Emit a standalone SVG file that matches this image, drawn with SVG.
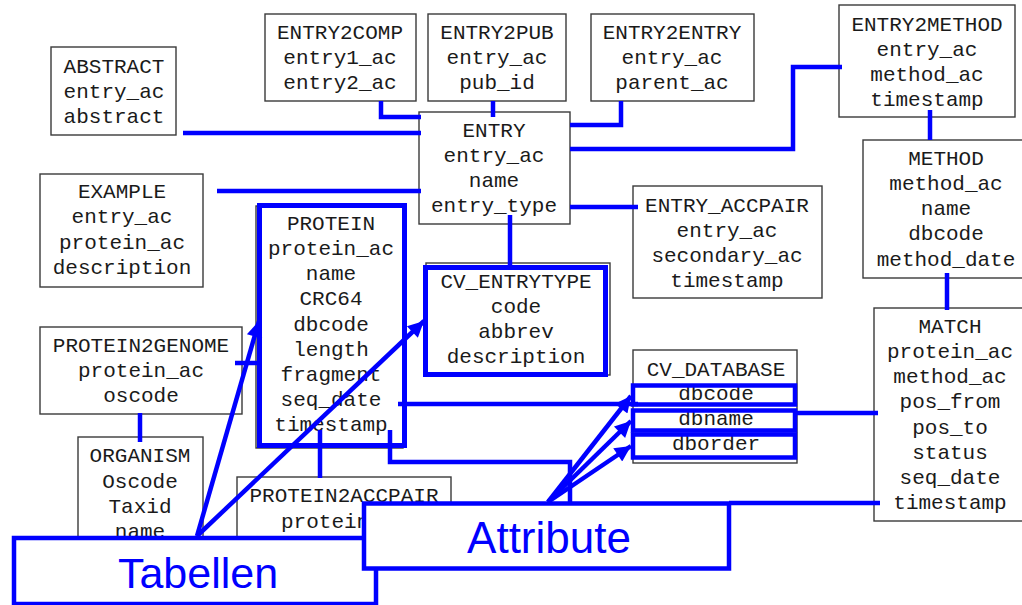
<svg xmlns="http://www.w3.org/2000/svg" width="1022" height="605" viewBox="0 0 1022 605">
  <style>
    .box { fill: #ffffff; stroke: #3a3a3a; stroke-width: 1.4; }
    .hl { fill: none; stroke: #0000ff; stroke-width: 5; }
    .row { fill: none; stroke: #0000ff; stroke-width: 4.5; }
    .lbl { fill: #ffffff; stroke: #0000ff; stroke-width: 4.5; }
    .t { font-family: "Liberation Mono", "DejaVu Sans Mono", monospace; font-size: 21px; fill: #1a1a1a; text-anchor: middle; }
    .big { font-family: "Liberation Sans", Arial, sans-serif; fill: #0000ff; text-anchor: middle; }
    .c { fill: none; stroke: #0000ff; stroke-width: 4.5; stroke-linejoin: miter; }
  </style>
  <defs>
    <marker id="arrow" viewBox="0 0 10 10" refX="10" refY="5" markerWidth="20" markerHeight="16" markerUnits="userSpaceOnUse" orient="auto">
      <path d="M0,0 L10,5 L0,10 z" fill="#0000ff"/>
    </marker>
  </defs>

  <rect width="1022" height="605" fill="#ffffff"/>

  <!-- tables -->
  <g id="abstract">
    <rect class="box" x="51" y="47" width="125" height="88"/>
    <text class="t" x="114" y="73">ABSTRACT</text>
    <text class="t" x="114" y="98">entry_ac</text>
    <text class="t" x="114" y="123">abstract</text>
  </g>
  <g id="entry2comp">
    <rect class="box" x="265" y="14" width="151" height="87"/>
    <text class="t" x="340" y="39">ENTRY2COMP</text>
    <text class="t" x="340" y="64">entry1_ac</text>
    <text class="t" x="340" y="89">entry2_ac</text>
  </g>
  <g id="entry2pub">
    <rect class="box" x="428" y="14" width="138" height="87"/>
    <text class="t" x="497" y="39">ENTRY2PUB</text>
    <text class="t" x="497" y="64">entry_ac</text>
    <text class="t" x="497" y="89">pub_id</text>
  </g>
  <g id="entry2entry">
    <rect class="box" x="591" y="14" width="163" height="87"/>
    <text class="t" x="672" y="39">ENTRY2ENTRY</text>
    <text class="t" x="672" y="64">entry_ac</text>
    <text class="t" x="672" y="89">parent_ac</text>
  </g>
  <g id="entry2method">
    <rect class="box" x="839" y="5" width="176" height="112"/>
    <text class="t" x="927" y="31">ENTRY2METHOD</text>
    <text class="t" x="927" y="56">entry_ac</text>
    <text class="t" x="927" y="81">method_ac</text>
    <text class="t" x="927" y="106">timestamp</text>
  </g>
  <g id="entry">
    <rect class="box" x="419" y="112" width="151" height="112"/>
    <text class="t" x="494" y="137">ENTRY</text>
    <text class="t" x="494" y="162">entry_ac</text>
    <text class="t" x="494" y="187">name</text>
    <text class="t" x="494" y="212">entry_type</text>
  </g>
  <g id="example">
    <rect class="box" x="40" y="174" width="163" height="113"/>
    <text class="t" x="122" y="198">EXAMPLE</text>
    <text class="t" x="122" y="223">entry_ac</text>
    <text class="t" x="122" y="249">protein_ac</text>
    <text class="t" x="122" y="274">description</text>
  </g>
  <g id="method">
    <rect class="box" x="863" y="140" width="170" height="138"/>
    <text class="t" x="946" y="165">METHOD</text>
    <text class="t" x="946" y="190">method_ac</text>
    <text class="t" x="946" y="215">name</text>
    <text class="t" x="946" y="240">dbcode</text>
    <text class="t" x="946" y="266">method_date</text>
  </g>
  <g id="entry_accpair">
    <rect class="box" x="633" y="186" width="189" height="112"/>
    <text class="t" x="727" y="212">ENTRY_ACCPAIR</text>
    <text class="t" x="727" y="237">entry_ac</text>
    <text class="t" x="727" y="262">secondary_ac</text>
    <text class="t" x="727" y="287">timestamp</text>
  </g>
  <g id="protein">
    <rect class="box" x="256" y="206" width="147" height="242"/>
    <rect class="hl" x="259.5" y="205.5" width="145" height="240"/>
    <text class="t" x="331" y="230">PROTEIN</text>
    <text class="t" x="331" y="255">protein_ac</text>
    <text class="t" x="331" y="280">name</text>
    <text class="t" x="331" y="305">CRC64</text>
    <text class="t" x="331" y="331">dbcode</text>
    <text class="t" x="331" y="356">length</text>
    <text class="t" x="331" y="381">fragment</text>
    <text class="t" x="331" y="406">seq_date</text>
    <text class="t" x="331" y="431">timestamp</text>
  </g>
  <g id="cv_entrytype">
    <rect class="box" x="426" y="263" width="184" height="112"/>
    <rect class="hl" x="425.5" y="267.5" width="180" height="107"/>
    <text class="t" x="516" y="288">CV_ENTRYTYPE</text>
    <text class="t" x="516" y="313">code</text>
    <text class="t" x="516" y="338">abbrev</text>
    <text class="t" x="516" y="363">description</text>
  </g>
  <g id="protein2genome">
    <rect class="box" x="40" y="327" width="202" height="87"/>
    <text class="t" x="141" y="352">PROTEIN2GENOME</text>
    <text class="t" x="141" y="377">protein_ac</text>
    <text class="t" x="141" y="402">oscode</text>
  </g>
  <g id="organism">
    <rect class="box" x="78" y="437" width="125" height="125"/>
    <text class="t" x="140" y="462">ORGANISM</text>
    <text class="t" x="140" y="488">Oscode</text>
    <text class="t" x="140" y="513">Taxid</text>
    <text class="t" x="140" y="538">name</text>
  </g>
  <g id="protein2accpair">
    <rect class="box" x="237" y="477" width="214" height="80"/>
    <text class="t" x="344" y="502">PROTEIN2ACCPAIR</text>
    <text class="t" x="344" y="528">protein_ac</text>
  </g>
  <g id="cv_database">
    <rect class="box" x="633" y="350" width="164" height="113"/>
    <text class="t" x="716" y="376">CV_DATABASE</text>
    <text class="t" x="716" y="400">dbcode</text>
    <text class="t" x="716" y="425">dbname</text>
    <text class="t" x="716" y="450">dborder</text>
    <rect class="row" x="633" y="385.5" width="162" height="19"/>
    <rect class="row" x="633" y="410.5" width="162" height="20"/>
    <rect class="row" x="633" y="434.5" width="162" height="23"/>
  </g>
  <g id="match">
    <rect class="box" x="874" y="308" width="160" height="213"/>
    <text class="t" x="950" y="333">MATCH</text>
    <text class="t" x="950" y="358">protein_ac</text>
    <text class="t" x="950" y="383">method_ac</text>
    <text class="t" x="950" y="408">pos_from</text>
    <text class="t" x="950" y="434">pos_to</text>
    <text class="t" x="950" y="459">status</text>
    <text class="t" x="950" y="484">seq_date</text>
    <text class="t" x="950" y="509">timestamp</text>
  </g>

  <!-- relations between tables -->
  <g id="connectors">
    <polyline class="c" points="381,101 381,117 421,117"/>
    <line class="c" x1="183" y1="133" x2="421" y2="133"/>
    <line class="c" x1="217" y1="191" x2="421" y2="191"/>
    <line class="c" x1="493" y1="101" x2="493" y2="117"/>
    <polyline class="c" points="621,101 621,125 570,125"/>
    <polyline class="c" points="570,149 793,149 793,67 842,67"/>
    <line class="c" x1="570" y1="207" x2="638" y2="207"/>
    <line class="c" x1="510" y1="215" x2="510" y2="265"/>
    <line class="c" x1="930" y1="110" x2="930" y2="140"/>
    <line class="c" x1="947" y1="273" x2="947" y2="310"/>
    <line class="c" x1="398" y1="404" x2="638" y2="404"/>
    <polyline class="c" points="390,430 390,462 570,462 570,503"/>
    <line class="c" x1="797" y1="413" x2="878" y2="413"/>
    <line class="c" x1="729" y1="503" x2="880" y2="503"/>
    <line class="c" x1="320" y1="430" x2="320" y2="478"/>
    <line class="c" x1="140" y1="413" x2="140" y2="442"/>
    <line class="c" x1="235" y1="363" x2="260" y2="363"/>
  </g>

  <!-- legend labels -->
  <g id="tabellen">
    <rect class="lbl" x="14" y="538" width="362" height="66"/>
    <text class="big" x="198" y="588" font-size="43">Tabellen</text>
  </g>
  <g id="attribute">
    <rect class="lbl" x="364" y="503.5" width="365" height="65"/>
    <text class="big" x="549" y="553" font-size="44">Attribute</text>
  </g>

  <g id="pointers">
    <line class="c" x1="197" y1="536" x2="259" y2="321" marker-end="url(#arrow)"/>
    <line class="c" x1="197" y1="536" x2="424" y2="321" marker-end="url(#arrow)"/>
    <line class="c" x1="548" y1="502" x2="631" y2="396" marker-end="url(#arrow)"/>
    <line class="c" x1="548" y1="502" x2="631" y2="421" marker-end="url(#arrow)"/>
    <line class="c" x1="548" y1="502" x2="631" y2="446" marker-end="url(#arrow)"/>
  </g>
</svg>
